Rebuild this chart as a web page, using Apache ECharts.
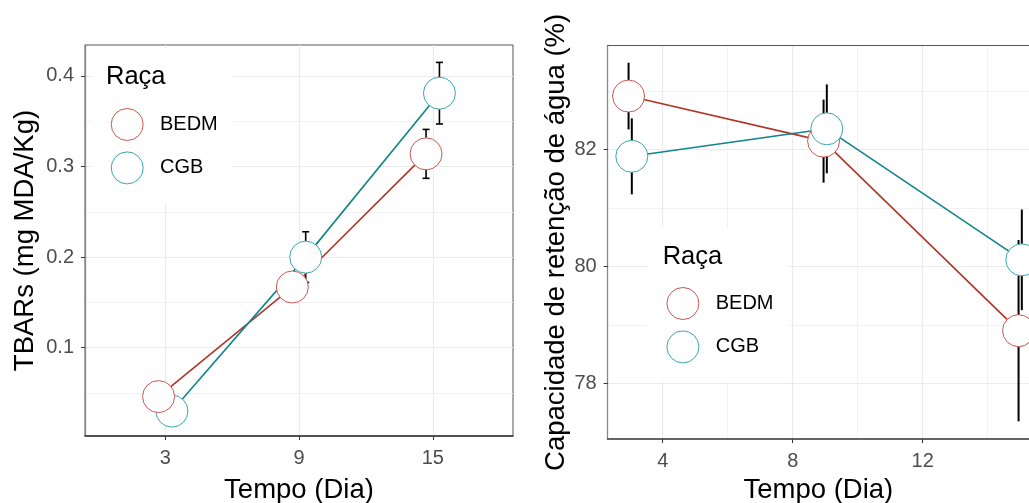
<!DOCTYPE html>
<html><head><meta charset="utf-8">
<script src="https://cdn.jsdelivr.net/npm/echarts@6/dist/echarts.min.js"></script>
<style>html,body{margin:0;padding:0;background:#fff}#c{width:1029px;height:503px}</style>
</head><body><div id="c"></div>
<script>
// ---------- data ----------
const breeds = ['BEDM', 'CGB'];
const dayLabels = ['3', '9', '15'];
const dayIndex = [0, 1, 2];
const days = [3, 9, 15];

// TBARs (mg MDA/Kg): mean and error
const tbarsBEDM = [0.046, 0.167, 0.314];
const tbarsBEDMerr = [0.008, 0.012, 0.027];
const tbarsCGB = [0.030, 0.200, 0.381];
const tbarsCGBerr = [0.006, 0.028, 0.034];

// Capacidade de retenção de água (%): mean and error
const craBEDM = [82.91, 82.14, 78.90];
const craBEDMerr = [0.57, 0.71, 1.55];
const craCGB = [81.88, 82.35, 80.11];
const craCGBerr = [0.65, 0.76, 0.86];

// tick labels / grid values
const tbarsTicks = [0.1, 0.2, 0.3, 0.4];
const tbarsMinor = [0.05, 0.15, 0.25, 0.35];
const craYTicks = [78, 80, 82];
const craYMinor = [79, 81, 83];
const craXTicks = [4, 8, 12];
const craXMinor = [6, 10, 14];

// drawing order of the TBARs points: [breed index, day index]
const tbarsPointOrder = [[1, 0], [0, 0], [0, 1], [1, 1], [0, 2], [1, 2]];

// ---------- style ----------
const lineColors = ['#B03528', '#10858A'];
const pointColors = ['#C9574F', '#3AA7AA'];
const dodge = [-0.05, 0.05];
const FONT = 'Liberation Sans, Arial, sans-serif';
const gridMajor = {show: true, lineStyle: {color: '#EBEBEB', width: 1.2}};
const gridMinor = {show: true, lineStyle: {color: '#F1F1F1', width: 0.9}};

const tbars = [tbarsBEDM, tbarsCGB], tbarsErr = [tbarsBEDMerr, tbarsCGBerr];
const cra = [craBEDM, craCGB], craErr = [craBEDMerr, craCGBerr];

function errRender(cap, lw) {
  return function (params, api) {
    const x = api.value(0), lo = api.value(1), hi = api.value(2);
    const a = api.coord([x, lo]), b = api.coord([x, hi]);
    const style = {stroke: '#000', lineWidth: lw};
    const ch = [{type: 'line', shape: {x1: a[0], y1: a[1], x2: b[0], y2: b[1]}, style: style}];
    if (cap > 0) {
      ch.push({type: 'line', shape: {x1: a[0] - cap, y1: a[1], x2: a[0] + cap, y2: a[1]}, style: style});
      ch.push({type: 'line', shape: {x1: b[0] - cap, y1: b[1], x2: b[0] + cap, y2: b[1]}, style: style});
    }
    return {type: 'group', children: ch};
  };
}

function helperAxis(gridIndex, vals, min, max, pos, line) {
  return {
    type: 'value', gridIndex: gridIndex, min: min, max: max, position: pos,
    axisLine: line ? {show: true, onZero: false, lineStyle: {color: '#555', width: 1}} : {show: false},
    axisLabel: {show: false},
    axisTick: {show: false, customValues: vals},
    splitLine: gridMinor
  };
}

const series = [];
const panels = [
  {xs: dayIndex, vals: tbars, errs: tbarsErr, xi: 0, yi: 0, cap: 3.5, lw: 1.6},
  {xs: days, vals: cra, errs: craErr, xi: 1, yi: 2, cap: 0, lw: 2}
];
panels.forEach(function (p, pi) {
  breeds.forEach(function (b, bi) {
    const xs = p.xs.map(function (x) { return x + dodge[bi]; });
    series.push({
      type: 'custom', name: b + ' erro ' + pi, xAxisIndex: p.xi, yAxisIndex: p.yi, z: 1,
      renderItem: errRender(p.cap, p.lw), silent: true,
      encode: {x: 0, y: [1, 2]},
      data: xs.map(function (x, i) { return [x, p.vals[bi][i] - p.errs[bi][i], p.vals[bi][i] + p.errs[bi][i]]; })
    });
    series.push({
      type: 'line', name: b + ' linha ' + pi, xAxisIndex: p.xi, yAxisIndex: p.yi, z: 2,
      showSymbol: false, silent: true,
      lineStyle: {color: lineColors[bi], width: 1.6},
      data: xs.map(function (x, i) { return [x, p.vals[bi][i]]; })
    });
  });
});
// TBARs points: one series, drawn in the order of tbarsPointOrder
series.push({
  type: 'scatter', name: 'pontos TBARs', xAxisIndex: 0, yAxisIndex: 0, z: 3,
  symbol: 'circle', symbolSize: 32, silent: true,
  itemStyle: {opacity: 1},
  data: tbarsPointOrder.map(function (o) {
    const bi = o[0], i = o[1];
    return {value: [dayIndex[i] + dodge[bi], tbars[bi][i]],
      itemStyle: {color: '#fff', borderColor: pointColors[bi], borderWidth: 1, opacity: 1}};
  })
});
// CRA points: one series per breed (also feed the legends)
breeds.forEach(function (b, bi) {
  series.push({
    type: 'scatter', name: b, xAxisIndex: 1, yAxisIndex: 2, z: 3 + bi,
    symbol: 'circle', symbolSize: 32, silent: true,
    itemStyle: {color: '#fff', borderColor: pointColors[bi], borderWidth: 1, opacity: 1},
    data: days.map(function (d, i) { return [d + dodge[bi], cra[bi][i]]; })
  });
});

const legendData = breeds.map(function (b, bi) {
  return {name: b, icon: 'circle', itemStyle: {color: '#fff', borderColor: pointColors[bi], borderWidth: 1, opacity: 1}};
});
function legendAt(left, top) {
  return {
    left: left, top: top, orient: 'vertical', padding: [59, 15, 18, 18.7],
    backgroundColor: '#fff', itemWidth: 55.6, itemHeight: 32, itemGap: 10.4,
    selectedMode: false, textStyle: {fontSize: 20, color: '#000', fontFamily: FONT},
    data: legendData
  };
}
const yLabelStyle = {fontSize: 20, color: '#4D4D4D', fontFamily: FONT, padding: [5, 0, 0, 0]};
const xLabelStyle = {fontSize: 20, color: '#4D4D4D', fontFamily: FONT};
const nameStyle = {fontSize: 27.5, color: '#000', fontFamily: FONT};

const option = {
  animation: false,
  textStyle: {fontFamily: FONT},
  title: [
    {text: 'Raça', left: 106, top: 64, padding: 0, textStyle: {fontSize: 25.5, fontWeight: 'normal', color: '#000', fontFamily: FONT}},
    {text: 'Raça', left: 662.7, top: 244.3, padding: 0, textStyle: {fontSize: 25.5, fontWeight: 'normal', color: '#000', fontFamily: FONT}}
  ],
  legend: [legendAt(92, 49), legendAt(647.7, 228)],
  grid: [
    {left: 85, top: 45, width: 428, height: 391, show: true, borderColor: '#555', borderWidth: 1, containLabel: false, outerBoundsMode: 'none'},
    {left: 607.7, top: 45.7, width: 421.3, height: 393.3, show: false, containLabel: false, outerBoundsMode: 'none'}
  ],
  xAxis: [
    {
      type: 'value', gridIndex: 0, min: -0.6, max: 2.6,
      name: 'Tempo (Dia)', nameLocation: 'middle', nameGap: 40, nameTextStyle: nameStyle,
      axisLine: {show: true, onZero: false, lineStyle: {color: '#333', width: 1.5}},
      axisTick: {show: true, length: 4, lineStyle: {color: '#333'}, customValues: dayIndex},
      axisLabel: {show: true, margin: 12, customValues: dayIndex, formatter: function (v) { return dayLabels[Math.round(v)]; }, ...xLabelStyle},
      splitLine: gridMajor
    },
    {
      type: 'value', gridIndex: 1, min: 2.308, max: 15.271,
      name: 'Tempo (Dia)', nameLocation: 'middle', nameGap: 37, nameTextStyle: nameStyle,
      axisLine: {show: true, onZero: false, lineStyle: {color: '#333', width: 1.5}},
      axisTick: {show: true, length: 4, lineStyle: {color: '#333'}, customValues: craXTicks},
      axisLabel: {show: true, margin: 12, customValues: craXTicks, ...xLabelStyle},
      splitLine: gridMajor
    },
    helperAxis(1, craXMinor, 2.308, 15.271, 'top', true)
  ],
  yAxis: [
    {
      type: 'value', gridIndex: 0, min: 0.0025, max: 0.4342,
      name: 'TBARs (mg MDA/Kg)', nameLocation: 'middle', nameGap: 45.5, nameTextStyle: nameStyle,
      axisLine: {show: true, onZero: false, lineStyle: {color: '#888', width: 1.3}},
      axisTick: {show: true, length: 4, lineStyle: {color: '#333'}, customValues: tbarsTicks},
      axisLabel: {show: true, margin: 11, customValues: tbarsTicks, formatter: function (v) { return v.toFixed(1); }, ...yLabelStyle},
      splitLine: gridMajor
    },
    helperAxis(0, tbarsMinor, 0.0025, 0.4342, 'right', false),
    {
      type: 'value', gridIndex: 1, min: 77.048, max: 83.771,
      name: 'Capacidade de retenção de água (%)', nameLocation: 'middle', nameGap: 37, nameTextStyle: nameStyle,
      axisLine: {show: true, onZero: false, lineStyle: {color: '#888', width: 1.3}},
      axisTick: {show: true, length: 4, lineStyle: {color: '#333'}, customValues: craYTicks},
      axisLabel: {show: true, margin: 11, customValues: craYTicks, ...yLabelStyle},
      splitLine: gridMajor
    },
    helperAxis(1, craYMinor, 77.048, 83.771, 'right', false)
  ],
  series: series
};
const chart = echarts.init(document.getElementById('c'), null, {renderer: 'canvas'});
chart.setOption(option);
</script></body></html>
